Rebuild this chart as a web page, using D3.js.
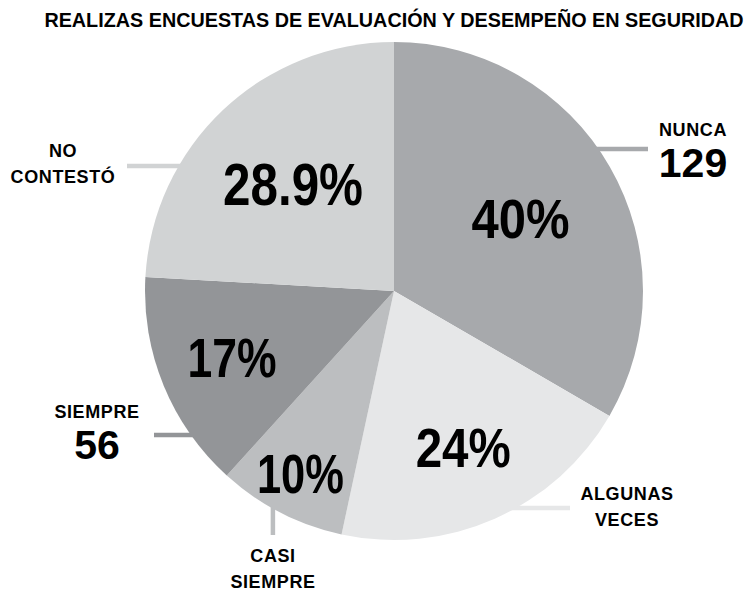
<!DOCTYPE html>
<html>
<head>
<meta charset="utf-8">
<script src="https://cdn.jsdelivr.net/npm/d3@7"></script>
<style>
  body { margin: 0; background: #fff; }
  text { font-family: "Liberation Sans", Arial, sans-serif; font-weight: bold; fill: #000; }
</style>
</head>
<body>
<div id="chart"></div>
<script>
// data
var categories = ["NUNCA", "ALGUNAS VECES", "CASI SIEMPRE", "SIEMPRE", "NO CONTESTÓ"];
var percents = [40, 24, 10, 17, 28.9];
var percentLabels = ["40%", "24%", "10%", "17%", "28.9%"];
var counts = [129, null, null, 56, null];
var title = "REALIZAS ENCUESTAS DE EVALUACIÓN Y DESEMPEÑO EN SEGURIDAD";

var w = 754, h = 590;
var cx = 394, cy = 291, r = 249;

var colors = ["#a7a9ac", "#e6e7e8", "#bcbec0", "#939598", "#d1d3d4"];

// label placement (radius for the % label, its width, leader angle/end, category text pos)
var labelRadius = [146, 171, 205, 175, 147];
var labelWidth = [98, 95, 87, 89, 140];
var leaders = [
    {angle: 55.2, dir: "h", end: 648},
    {angle: 150.6, dir: "h", end: 570},
    {angle: 209.1, dir: "v", end: 535},
    {angle: 234.7, dir: "h", end: 154},
    {angle: 300.1, dir: "h", end: 127}
];
var catText = [
    {x: 693, y: 136},
    {x: 627, y: 500},
    {x: 273, y: 562},
    {x: 97, y: 418},
    {x: 63, y: 157}
];

var svg = d3.select("#chart")
    .append("svg")
        .attr("width", w)
        .attr("height", h);

var titleText = svg.append("text")
    .attr("x", 394)
    .attr("y", 27)
    .attr("text-anchor", "middle")
    .attr("font-size", 20)
    .text(title);

// shrink the title if it would run past the right edge
var tl = titleText.node().getComputedTextLength();
if (tl > 700) titleText.attr("font-size", 20 * 700 / tl);

var data = categories.map(function(c, i){
    return {name: c, value: percents[i], label: percentLabels[i], count: counts[i], i: i};
});

var pie = d3.pie()
    .sort(null)
    .value(function(d){ return d.value; });

var arcs = pie(data);

var g = svg.append("g")
    .attr("transform", "translate(" + cx + "," + cy + ")");

// leader lines (drawn under the pie)
leaders.forEach(function(l, i){
    var a = l.angle * Math.PI / 180;
    var x0 = (r - 12) * Math.sin(a), y0 = -(r - 12) * Math.cos(a);
    var xe = r * Math.sin(a), ye = -r * Math.cos(a);
    var x1, y1;
    if (l.dir == "h") { x1 = l.end - cx; y1 = ye; y0 = ye; }
    else { x1 = xe; y1 = l.end - cy; x0 = xe; }
    g.append("line")
        .attr("x1", x0).attr("y1", y0)
        .attr("x2", x1).attr("y2", y1)
        .attr("stroke", colors[i])
        .attr("stroke-width", 4.5);
});

var arc = d3.arc().innerRadius(0).outerRadius(r);

g.selectAll("path")
    .data(arcs)
    .enter()
    .append("path")
    .attr("d", arc)
    .attr("fill", function(d){ return colors[d.data.i]; });

// percentage labels
g.selectAll("text.pct")
    .data(arcs)
    .enter()
    .append("text")
    .attr("class", "pct")
    .attr("transform", function(d){
        var rr = labelRadius[d.data.i];
        var c = d3.arc().innerRadius(rr).outerRadius(rr).centroid(d);
        return "translate(" + c[0] + "," + c[1] + ")";
    })
    .attr("dy", "0.36em")
    .attr("text-anchor", "middle")
    .attr("font-size", function(d){ return d.data.i == 4 ? 59 : 55; })
    .attr("textLength", function(d){ return labelWidth[d.data.i]; })
    .attr("lengthAdjust", "spacingAndGlyphs")
    .text(function(d){ return d.data.label; });

// category labels
data.forEach(function(d, i){
    var t = catText[i];
    var lines = d.name.split(" ");
    var txt = svg.append("text")
        .attr("x", t.x)
        .attr("y", t.y)
        .attr("text-anchor", "middle")
        .attr("font-size", 18)
        .attr("letter-spacing", 0.6);
    if (d.count != null) {
        txt.text(d.name);
        svg.append("text")
            .attr("x", t.x)
            .attr("y", t.y + 41)
            .attr("text-anchor", "middle")
            .attr("font-size", 41)
            .text(d.count);
    } else {
        lines.forEach(function(s, k){
            txt.append("tspan")
                .attr("x", t.x)
                .attr("y", t.y + k * 25.5)
                .text(s);
        });
    }
});
</script>
</body>
</html>
